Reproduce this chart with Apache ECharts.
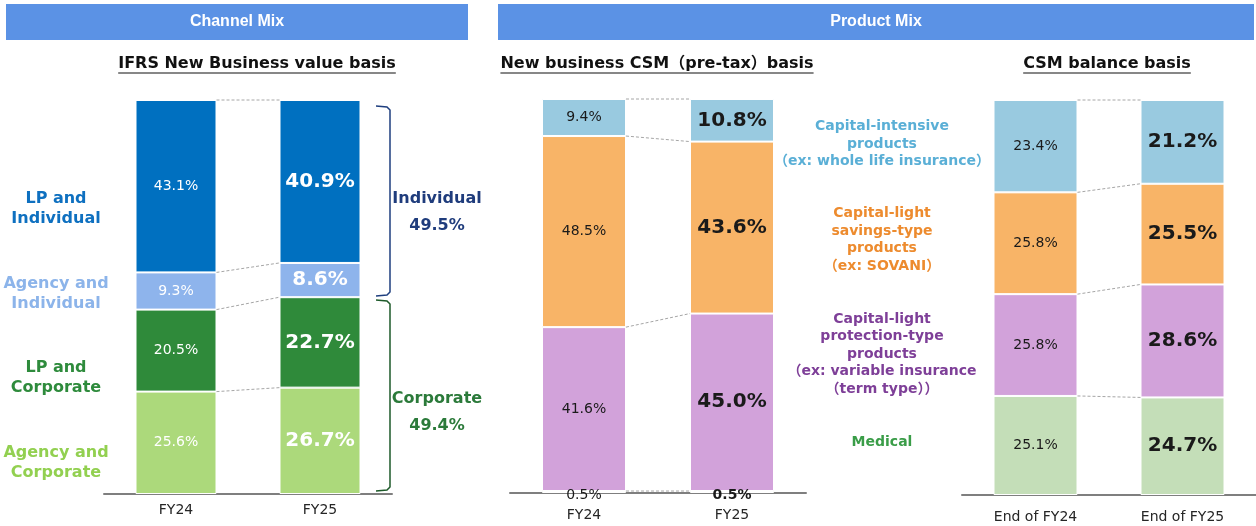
<!DOCTYPE html>
<html>
<head>
<meta charset="utf-8">
<script src="https://cdn.jsdelivr.net/npm/echarts@6/dist/echarts.min.js"></script>
<style>
  html, body { margin: 0; padding: 0; background: #fff; }
  #main { width: 1256px; height: 526px; }
</style>
</head>
<body>
<div id="main"></div>
<script>
// channel mix (IFRS new business value basis)
const channelCats = ['FY24', 'FY25'];
const agencyCorporate = [25.6, 26.7];
const lpCorporate = [20.5, 22.7];
const agencyIndividual = [9.3, 8.6];
const lpIndividual = [43.1, 40.9];
const individualTotal = '49.5%';
const corporateTotal = '49.4%';

// product mix, new business CSM (pre-tax)
const newBizCats = ['FY24', 'FY25'];
const nbMedical = [0.5, 0.5];
const nbProtection = [41.6, 45.0];
const nbSavings = [48.5, 43.6];
const nbIntensive = [9.4, 10.8];

// product mix, CSM balance
const balanceCats = ['End of FY24', 'End of FY25'];
const balMedical = [25.1, 24.7];
const balProtection = [25.8, 28.6];
const balSavings = [25.8, 25.5];
const balIntensive = [23.4, 21.2];

const FONT = '"DejaVu Sans", "Noto Sans CJK JP", sans-serif';

const chart = echarts.init(document.getElementById('main'), null, { renderer: 'canvas' });

// stacked 100% bars, bottom segment first
function stackSeries(gridIdx, groups, colors, labelColor, barWidth, smallIdx) {
  const totals = groups[0].map((_, i) => groups.reduce((s, g) => s + g[i], 0));
  return groups.map((g, k) => ({
    type: 'bar',
    xAxisIndex: gridIdx,
    yAxisIndex: gridIdx,
    stack: 'g' + gridIdx,
    barWidth: barWidth,
    itemStyle: { color: colors[k], borderColor: '#fff', borderWidth: 1 },
    data: g.map((v, i) => ({
      value: v / totals[i] * 100,
      label: {
        show: true,
        position: 'inside',
        offset: k === smallIdx ? [0, 3] : [0, 0],
        color: labelColor,
        fontFamily: FONT,
        fontSize: (i === 1 && k !== smallIdx) ? 20 : 14,
        fontWeight: i === 1 ? 'bold' : 'normal',
        formatter: v.toFixed(1) + '%'
      }
    }))
  }));
}

// dashed connectors between the two bars at each stack boundary
function connectorSeries(gridIdx, groups, barWidth) {
  const totals = groups[0].map((_, i) => groups.reduce((s, g) => s + g[i], 0));
  const rows = [];
  let c0 = 0, c1 = 0;
  groups.forEach(g => {
    c0 += g[0] / totals[0] * 100;
    c1 += g[1] / totals[1] * 100;
    rows.push([0, c0, c1]);
  });
  return {
    type: 'custom',
    xAxisIndex: gridIdx,
    yAxisIndex: gridIdx,
    silent: true,
    z: 5,
    encode: { x: 0, y: 1 },
    data: rows,
    renderItem: function (params, api) {
      const p0 = api.coord([0, api.value(1)]);
      const p1 = api.coord([1, api.value(2)]);
      return {
        type: 'line',
        shape: { x1: p0[0] + barWidth / 2, y1: p0[1], x2: p1[0] - barWidth / 2, y2: p1[1] },
        style: { stroke: '#a6a6a6', lineWidth: 1, lineDash: [3, 2] }
      };
    }
  };
}

const ch = [agencyCorporate, lpCorporate, agencyIndividual, lpIndividual];
const nb = [nbMedical, nbProtection, nbSavings, nbIntensive];
const bal = [balMedical, balProtection, balSavings, balIntensive];
const productColors = ['#c4deb8', '#d2a2da', '#f8b467', '#99cae0'];

function xAx(gridIdx, cats, margin) {
  return {
    type: 'category',
    gridIndex: gridIdx,
    data: cats,
    axisTick: { show: false },
    axisLine: { lineStyle: { color: '#7f7f7f', width: 2 } },
    axisLabel: { color: '#262626', fontSize: 14, fontFamily: FONT, margin: margin }
  };
}
function yAx(gridIdx) {
  return { type: 'value', gridIndex: gridIdx, min: 0, max: 100, show: false };
}

// text width for title underlines
const ctx = document.createElement('canvas').getContext('2d');
function textWidth(t, font) { ctx.font = font; return ctx.measureText(t).width; }

function title(text, cx, cy) {
  const font = 'bold 16px ' + FONT;
  const w = textWidth(text, font);
  return [
    { type: 'text', style: { text: text, x: cx, y: cy, font: font, fill: '#111', textAlign: 'center', textVerticalAlign: 'middle' } },
    { type: 'line', shape: { x1: cx - w / 2, y1: cy + 9, x2: cx + w / 2, y2: cy + 9 }, style: { stroke: '#111', lineWidth: 1.2 } }
  ];
}
function label(text, cx, cy, color, size, lh) {
  return { type: 'text', style: { text: text, x: cx, y: cy, font: 'bold ' + size + 'px ' + FONT, fill: color, textAlign: 'center', textVerticalAlign: 'middle', lineHeight: lh } };
}
function header(text, x, w) {
  return [
    { type: 'rect', shape: { x: x, y: 4, width: w, height: 36 }, style: { fill: '#5b92e5' } },
    { type: 'text', style: { text: text, x: x + w / 2, y: 22, font: 'bold 16px "Liberation Sans", Arial, sans-serif', fill: '#fff', textAlign: 'center', textVerticalAlign: 'middle' } }
  ];
}
function bracket(y0, y1, color) {
  return { type: 'polyline', shape: { points: [[376, y0], [387, y0 + 1], [390, y0 + 4], [390, y1 - 4], [387, y1 - 1], [376, y1]] }, style: { stroke: color, lineWidth: 1.5, fill: null } };
}

const graphics = [].concat(
  header('Channel Mix', 6, 462),
  header('Product Mix', 498, 756),
  title('IFRS New Business value basis', 257, 64),
  title('New business CSM\uFF08pre-tax\uFF09basis', 657, 64),
  title('CSM balance basis', 1107, 64),
  [
    label('LP and\nIndividual', 56, 209, '#0e70c0', 16, 20),
    label('Agency and\nIndividual', 56, 294, '#8cb4ea', 16, 20),
    label('LP and\nCorporate', 56, 378, '#2e8b3c', 16, 20),
    label('Agency and\nCorporate', 56, 463, '#92d050', 16, 20),
    bracket(106, 296, '#1f3f7f'),
    bracket(300, 491, '#1e5a2a'),
    label('Individual\n' + individualTotal, 437, 212, '#1f3c7c', 16, 27),
    label('Corporate\n' + corporateTotal, 437, 412, '#2b7a3a', 16, 27),
    label('Capital-intensive\nproducts\n\uFF08ex: whole life insurance\uFF09', 882, 144, '#5aafd6', 14, 17.5),
    label('Capital-light\nsavings-type\nproducts\n\uFF08ex: SOVANI\uFF09', 882, 240, '#ed8b2e', 14, 17.5),
    label('Capital-light\nprotection-type\nproducts\n\uFF08ex: variable insurance\n\uFF08term type\uFF09\uFF09', 882, 354, '#7e3f98', 14, 17.5),
    label('Medical', 882, 442, '#3a9d48', 14, 17.5)
  ]
);

const option = {
  animation: false,
  backgroundColor: '#fff',
  grid: [
    { left: 104, width: 288, top: 100, height: 394 },
    { left: 510, width: 296, top: 99, height: 394 },
    { left: 962, width: 298, top: 100, height: 395 }
  ],
  xAxis: [xAx(0, channelCats, 9), xAx(1, newBizCats, 15), xAx(2, balanceCats, 15)],
  yAxis: [yAx(0), yAx(1), yAx(2)],
  graphic: graphics,
  series: [].concat(
    stackSeries(0, ch, ['#acd97b', '#2f8a3a', '#8eb4ec', '#0070c0'], '#fff', 81, -1),
    stackSeries(1, nb, productColors, '#1a1a1a', 84, 0),
    stackSeries(2, bal, productColors, '#1a1a1a', 84, -1),
    [connectorSeries(0, ch, 81), connectorSeries(1, nb, 84), connectorSeries(2, bal, 84)]
  )
};

chart.setOption(option);
</script>
</body>
</html>
